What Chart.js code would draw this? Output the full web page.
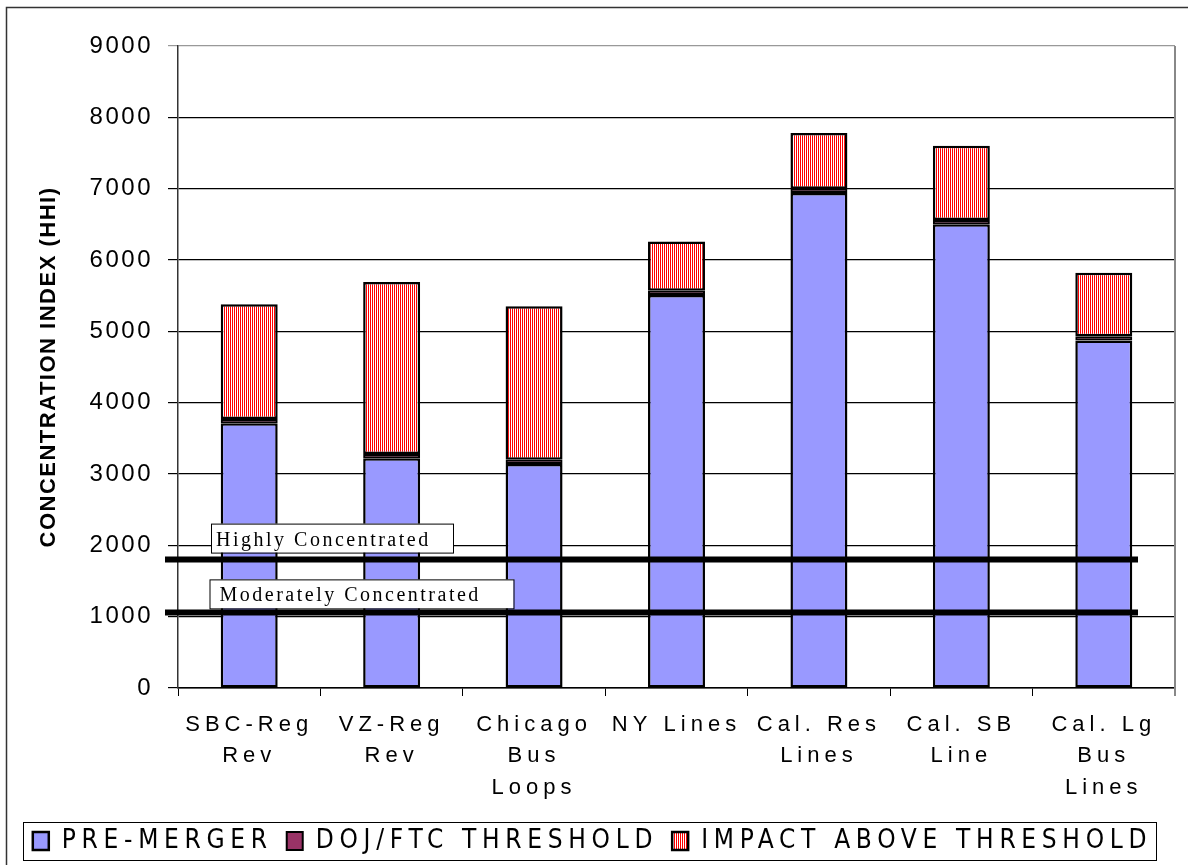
<!DOCTYPE html>
<html>
<head>
<meta charset="utf-8">
<script src="https://cdn.jsdelivr.net/npm/chart.js@4.4.1/dist/chart.umd.min.js"></script>
<style>
  html, body { margin: 0; padding: 0; background: #fff; }
  #hhi-chart { display: block; }
</style>
</head>
<body>
<canvas id="hhi-chart" width="1188" height="865"></canvas>
<script>
// market labels (multi-line like the original axis)
const markets = [
    ['SBC-Reg', 'Rev'],
    ['VZ-Reg', 'Rev'],
    ['Chicago', 'Bus', 'Loops'],
    'NY Lines',
    ['Cal. Res', 'Lines'],
    ['Cal. SB', 'Line'],
    ['Cal. Lg', 'Bus', 'Lines']
];
const preMerger = [3710, 3220, 3140, 5510, 6940, 6500, 4870];
const dojThreshold = [60, 60, 60, 60, 60, 60, 60];
const impactAbove = [1610, 2410, 2150, 690, 780, 1040, 890];

// horizontal guide lines and their captions
const levelValues = [1800, 1060];
const levelLabels = ['Highly Concentrated', 'Moderately Concentrated'];

const SANS = 'Arial, "Liberation Sans", sans-serif';
const NARROW = '"Liberation Sans Narrow", "Arial Narrow", "DejaVu Sans Condensed", Arial, sans-serif';
const SERIF = '"Times New Roman", "Liberation Serif", serif';

// the original uses wide tracking; canvas letterSpacing keyed off the font size
const tracking = { 20: '2.5px', 22: '5px', 24: '2.5px', 26: '5.7px' };
function trackingFor(font) {
    if (/bold/.test(font)) return '1.5px';
    const m = /(\d+(?:\.\d+)?)px/.exec(font);
    return (m && tracking[m[1]]) || '0px';
}
const fontDesc = Object.getOwnPropertyDescriptor(CanvasRenderingContext2D.prototype, 'font');
Object.defineProperty(CanvasRenderingContext2D.prototype, 'font', {
    configurable: true,
    get() { return fontDesc.get.call(this); },
    set(v) {
        fontDesc.set.call(this, v);
        if ('letterSpacing' in this) this.letterSpacing = trackingFor(v);
    }
});

// red vertical hatch
function stripes() {
    const c = document.createElement('canvas');
    c.width = 2; c.height = 2;
    const g = c.getContext('2d');
    g.fillStyle = '#ffffff';
    g.fillRect(0, 0, 2, 2);
    g.fillStyle = '#ff0000';
    g.fillRect(0, 0, 1, 2);
    return g.createPattern(c, 'repeat');
}

const extras = {
    id: 'extras',
    afterDatasetsDraw(chart) {
        const ctx = chart.ctx;
        const y = chart.scales.y;
        const area = chart.chartArea;
        ctx.save();
        // plot area right edge
        ctx.strokeStyle = '#888';
        ctx.lineWidth = 2;
        ctx.beginPath();
        ctx.moveTo(area.right, area.top);
        ctx.lineTo(area.right, area.bottom + 8);
        ctx.stroke();

        levelValues.forEach((v, i) => {
            const py = y.getPixelForValue(v);
            ctx.strokeStyle = '#000';
            ctx.lineWidth = 6;
            ctx.beginPath();
            ctx.moveTo(area.left - 13, py);
            ctx.lineTo(area.right - 37, py);
            ctx.stroke();

            const boxW = i === 0 ? 242 : 304;
            const boxTop = i === 0 ? py - 36 : py - 33;
            const boxLeft = i === 0 ? area.left + 33 : area.left + 31.5;
            ctx.fillStyle = '#fff';
            ctx.fillRect(boxLeft, boxTop, boxW, 29);
            ctx.lineWidth = 1;
            ctx.strokeRect(boxLeft + 0.5, boxTop + 0.5, boxW, 29);
            ctx.font = '20px ' + SERIF;
            ctx.fillStyle = '#000';
            ctx.textAlign = 'left';
            ctx.textBaseline = 'alphabetic';
            ctx.fillText(levelLabels[i], boxLeft + (i === 0 ? 5 : 10), boxTop + 22);
        });
        ctx.restore();
    },
    afterDraw(chart) {
        const ctx = chart.ctx;
        const boxes = chart.legend.legendHitBoxes;
        ctx.save();
        // legend frame around the items
        let l = Infinity, r = -Infinity, t = Infinity, b = -Infinity;
        boxes.forEach(h => {
            l = Math.min(l, h.left); r = Math.max(r, h.left + h.width);
            t = Math.min(t, h.top); b = Math.max(b, h.top + h.height);
        });
        ctx.strokeStyle = '#000';
        ctx.lineWidth = 1;
        ctx.strokeRect(Math.round(l - 10) + 0.5, Math.round(t - 6) + 0.5,
            Math.round(r - l + 14), Math.round(b - t + 12));
        // outer chart frame (left and top edges visible)
        ctx.strokeStyle = '#333';
        ctx.lineWidth = 1.5;
        ctx.strokeRect(6.5, 7.5, 1300, 1000);
        ctx.restore();
    }
};

const ctx = document.getElementById('hhi-chart').getContext('2d');

new Chart(ctx, {
    type: 'bar',
    data: {
        labels: markets,
        datasets: [
            {
                label: 'PRE-MERGER',
                data: preMerger,
                backgroundColor: '#9999ff',
                borderColor: '#000',
                borderWidth: 2.5,
                borderSkipped: false
            },
            {
                label: 'DOJ/FTC THRESHOLD',
                data: dojThreshold,
                backgroundColor: '#993366',
                borderColor: '#000',
                borderWidth: 2,
                borderSkipped: false
            },
            {
                label: 'IMPACT ABOVE THRESHOLD',
                data: impactAbove,
                backgroundColor: stripes(),
                borderColor: '#000',
                borderWidth: 2.5,
                borderSkipped: false
            }
        ]
    },
    options: {
        responsive: false,
        animation: false,
        layout: { padding: { top: 46, right: 13, bottom: 3, left: 10 } },
        datasets: { bar: { barPercentage: 0.4, categoryPercentage: 1 } },
        plugins: {
            tooltip: { enabled: false },
            legend: {
                position: 'bottom',
                maxHeight: 48,
                labels: {
                    color: '#000',
                    font: { family: NARROW, size: 26, lineHeight: 1 },
                    boxWidth: 16,
                    boxHeight: 18,
                    padding: 14
                }
            }
        },
        scales: {
            x: {
                stacked: true,
                grid: { display: true, drawOnChartArea: false, tickLength: 8, color: '#000', offset: true },
                border: { color: '#000', width: 1.5 },
                ticks: {
                    color: '#000',
                    font: { family: SANS, size: 22, lineHeight: 1.43 },
                    padding: 13,
                    maxRotation: 0,
                    autoSkip: false
                },
                afterFit(scale) { scale.height = 126; }
            },
            y: {
                stacked: true,
                min: 0,
                max: 9000,
                ticks: {
                    stepSize: 1000,
                    color: '#000',
                    font: { family: SANS, size: 24 },
                    padding: 15,
                    callback: v => String(v)
                },
                grid: {
                    tickLength: 10,
                    lineWidth: 1.2,
                    color: c => (c.tick && c.tick.value === 9000 ? '#999' : '#000')
                },
                border: { color: '#333', width: 1.5 },
                title: {
                    display: true,
                    text: 'CONCENTRATION INDEX (HHI)',
                    color: '#000',
                    font: { family: SANS, size: 22, weight: 'bold' },
                    padding: { top: 26 }
                },
                afterFit(scale) { scale.width = 168; }
            }
        }
    },
    plugins: [extras]
});
</script>
</body>
</html>
